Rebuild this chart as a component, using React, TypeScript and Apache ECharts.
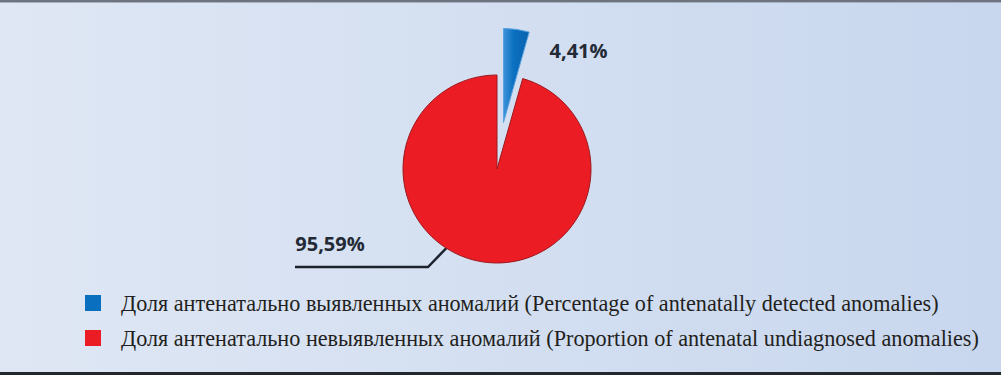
import React, { useEffect, useRef } from "react";
import * as echarts from "echarts";

const categories = [
  "Доля антенатально выявленных аномалий (Percentage of antenatally detected anomalies)",
  "Доля антенатально невыявленных аномалий (Proportion of antenatal undiagnosed anomalies)",
];
const values = [4.41, 95.59];
const labels = ["4,41%", "95,59%"];
const colors = ["#0b6fc0", "#ec1c24"];

export default function App() {
  const ref = useRef<HTMLDivElement>(null);
  useEffect(() => {
    const chart = echarts.init(ref.current!, null, { renderer: "svg" });
    chart.setOption({
      animation: false,
      backgroundColor: {
        type: "linear",
        x: 0,
        y: 0,
        x2: 1,
        y2: 0,
        colorStops: [
          { offset: 0, color: "#dfe7f4" },
          { offset: 1, color: "#c8d7ee" },
        ],
      },
      graphic: [
        { type: "rect", shape: { x: 0, y: 0, width: 1001, height: 2 }, style: { fill: "#6d7480" } },
        { type: "rect", shape: { x: 0, y: 2, width: 1001, height: 1 }, style: { fill: "#a9b2c0" } },
        { type: "rect", shape: { x: 0, y: 372, width: 1001, height: 3 }, style: { fill: "#23272e" } },
      ],
      legend: {
        orient: "vertical",
        left: 85,
        top: 292,
        padding: 0,
        itemWidth: 16,
        itemHeight: 16,
        itemGap: 13,
        icon: "rect",
        itemStyle: { borderWidth: 0 },
        textStyle: {
          fontFamily: "Liberation Serif",
          fontSize: 22.2,
          lineHeight: 20,
          color: "#231f20",
          padding: [0, 0, 0, 15],
        },
        data: categories.map((c, i) => ({ name: c, itemStyle: { color: colors[i] } })),
      },
      series: [
        {
          type: "pie",
          center: [497, 169],
          radius: 94,
          startAngle: 90,
          clockwise: true,
          selectedMode: "single",
          selectedOffset: 47,
          data: values.map((v, i) => ({
            name: categories[i],
            value: v,
            selected: i === 0,
            itemStyle: {
              color:
                i === 0
                  ? {
                      type: "linear",
                      x: 0,
                      y: 0,
                      x2: 1,
                      y2: 0,
                      colorStops: [
                        { offset: 0, color: "#3d93da" },
                        { offset: 0.4, color: "#0b6fc0" },
                        { offset: 1, color: "#0a63ad" },
                      ],
                    }
                  : colors[i],
              borderColor: i === 0 ? "#5aa2e0" : "#9c1a1e",
              borderWidth: 1,
            },
            label: {
              show: true,
              formatter: labels[i],
              fontFamily: "Open Sans",
              fontWeight: "bold",
              fontSize: 20,
              color: "#232a35",
            },
            labelLine: {
              show: i === 1,
              lineStyle: { color: "#1d232c", width: 2.5 },
            },
          })),
          label: { position: "outside" },
          labelLayout: (p: any) => {
            if (p.dataIndex === 0) {
              return { dx: -4, dy: 36 };
            }
            return {
              x: 330,
              y: 243,
              align: "center",
              verticalAlign: "middle",
              labelLinePoints: [
                [461, 233],
                [428, 267],
                [295, 267],
              ],
            };
          },
        },
      ],
    });
    return () => chart.dispose();
  }, []);
  return (
    <div
      ref={ref}
      style={{ position: "absolute", left: 0, top: 0, width: 1001, height: 375 }}
    />
  );
}
